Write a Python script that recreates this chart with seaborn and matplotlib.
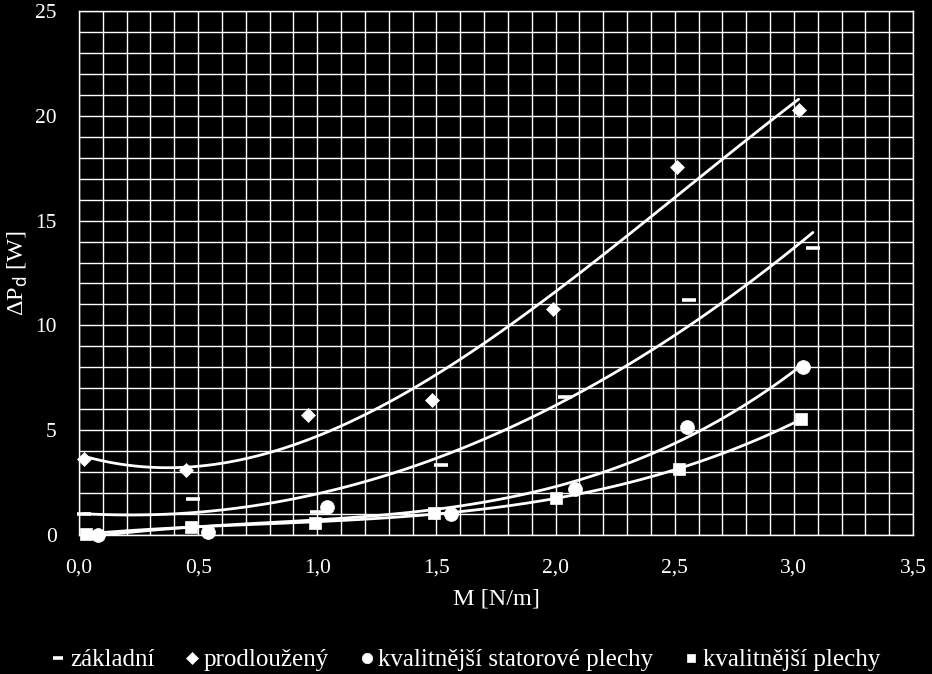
import numpy as np
import pandas as pd
import matplotlib
matplotlib.use("Agg")
import matplotlib.pyplot as plt
import seaborn as sns
from matplotlib.ticker import MultipleLocator, FuncFormatter
from matplotlib.lines import Line2D

# ---- data ----
zakladni_x = [0.02, 0.48, 1.00, 1.52, 2.04, 2.56, 3.08]
zakladni_y = [1.00, 1.72, 1.10, 3.34, 6.58, 11.20, 13.70]

prodlouzeny_x = [0.02, 0.45, 0.96, 1.48, 1.99, 2.51, 3.02]
prodlouzeny_y = [3.63, 3.10, 5.73, 6.44, 10.80, 17.56, 20.30]

stator_x = [0.08, 0.54, 1.04, 1.56, 2.08, 2.55, 3.04]
stator_y = [0.00, 0.14, 1.33, 1.00, 2.20, 5.15, 8.00]

plechy_x = [0.03, 0.47, 0.99, 1.49, 2.00, 2.52, 3.03]
plechy_y = [0.05, 0.40, 0.57, 1.04, 1.77, 3.14, 5.53]

labels = ["základní", "prodloužený", "kvalitnější statorové plechy", "kvalitnější plechy"]
trend_orders = [2, 3, 3, 3]

series = [
    (zakladni_x, zakladni_y, "_", 9.5, 2.6),
    (prodlouzeny_x, prodlouzeny_y, "D", 7.5, 0),
    (stator_x, stator_y, "o", 10, 0),
    (plechy_x, plechy_y, "s", 8, 0),
]

sns.set_style("dark")
plt.rcParams["font.family"] = ["Liberation Serif", "DejaVu Serif"]

fig = plt.figure(figsize=(9.32, 6.74), dpi=100, facecolor="black")
ax = fig.add_axes([79 / 932, 1 - 535 / 674, (913 - 79) / 932, (535 - 11) / 674])
ax.set_facecolor("black")

ax.set_xlim(0, 3.5)
ax.set_ylim(0, 25)
ax.xaxis.set_major_locator(MultipleLocator(0.5))
ax.xaxis.set_minor_locator(MultipleLocator(0.1))
ax.yaxis.set_major_locator(MultipleLocator(5))
ax.yaxis.set_minor_locator(MultipleLocator(1))
ax.grid(which="both", color="white", linewidth=1.0)
ax.set_axisbelow(True)
for s in ax.spines.values():
    s.set_color("white")
    s.set_linewidth(1.0)
ax.tick_params(which="major", direction="out", length=6, width=1, colors="white",
               labelsize=15.5)
ax.tick_params(axis="y", pad=10)
ax.tick_params(axis="x", pad=11)
ax.tick_params(which="minor", length=0)
ax.xaxis.set_major_formatter(FuncFormatter(lambda v, p: f"{v:.1f}".replace(".", ",")))
ax.yaxis.set_major_formatter(FuncFormatter(lambda v, p: f"{v:.0f}"))

handles = []
for (xs, ys, m, ms, mew), lab, order in zip(series, labels, trend_orders):
    df = pd.DataFrame({"x": xs, "y": ys})
    sns.regplot(data=df, x="x", y="y", order=order, ci=None, scatter=False, truncate=True,
                line_kws=dict(color="white", linewidth=2.0), ax=ax)
    ax.plot(df["x"], df["y"], linestyle="none", marker=m, markersize=ms,
            color="white", markeredgecolor="white", markeredgewidth=mew if mew else 0.5,
            zorder=5, clip_on=False)
    handles.append(Line2D([], [], linestyle="none", marker=m,
                          markersize=ms * 0.75, color="white", markeredgecolor="white",
                          markeredgewidth=mew if mew else 0.5, label=lab))

ax.set_xlabel("M [N/m]", color="white", fontsize=17.5, labelpad=8)
ax.set_ylabel("ΔP$_{\\rm d}$ [W]", color="white", fontsize=17.5, labelpad=4)

leg = fig.legend(handles=handles, loc="center", bbox_to_anchor=(0.5, 1 - 660 / 674),
                 ncol=4, frameon=False, fontsize=18, handlelength=0.5,
                 handletextpad=0.22, columnspacing=1.25, labelcolor="white")

fig.savefig("out.png", dpi=100, facecolor="black")
